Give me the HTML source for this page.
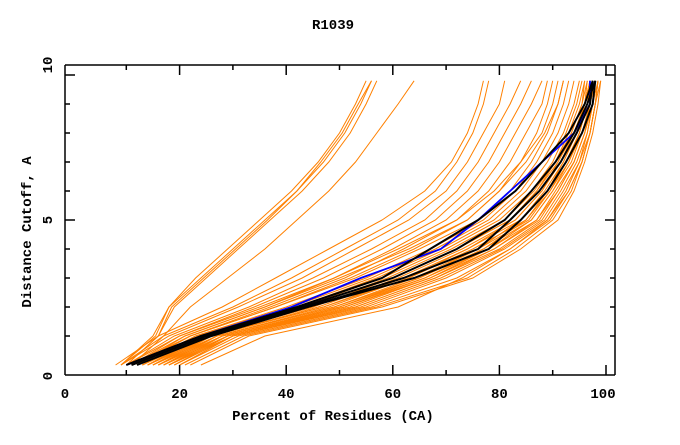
<!DOCTYPE html>
<html><head><meta charset="utf-8"><style>
body{margin:0;background:#fff}
svg text{font-family:"Liberation Mono",monospace;font-weight:bold;font-size:14px;fill:#000}
</style></head><body>
<svg id="chart" width="680" height="440">
<text x="333" y="29" text-anchor="middle">R1039</text>
<text x="333" y="420" text-anchor="middle">Percent of Residues (CA)</text>
<text transform="translate(31,232) rotate(-90)" text-anchor="middle">Distance Cutoff, A</text>
<g id="lines"></g>
<g id="axes"></g>
</svg>
<script>
const levels=[0,1,2,3,4,5,6,7,8,9,9.8];
const xTicks=[0,20,40,60,80,100];
const yTicks=[0,5,10];
const orange=[
[9,15.5,18,24,30,36,42,47,51,54,56],
[10,16,19,25,31,37,43,48,52,55,57],
[9,15,18,23,29,35,41,46,50,53,55],
[10,16,18.5,24.5,30.5,36.5,42,46.5,50.5,53.5,56],
[11,17,22,29,36,42,48,53,57,61,64],
[8,16,28,38,48,58,66,71,74,76,77],
[9,17,30,41,51,61,68,72,75,77,78],
[9,18,31,43,53,63,70,74,77,80,81],
[10,19,33,45,56,66,72,76,79,82,84],
[10,20,34,47,58,68,74,78,81,84,86],
[11,21,36,49,60,70,76,80,83,86,88],
[11,22,37,51,62,72,78,82,85,88,89],
[12,22,38,52,64,74,80,84,87,89,90],
[12,22,38,53,65,76,82,86,89,91,92],
[12,23,40,55,67,77,83,87,90,92,93],
[13,23,41,56,68,78,84,88,91,93,94],
[13,24,42,57,69,79,85,89,92,94,95],
[14,24,43,58,70,80,86,90,92.5,94.5,95.5],
[14,25,44,59,71,81,86.5,90.5,93,95,96],
[15,25,45,60,72,82,87,91,93.5,95.5,96],
[15,26,46,61,73,83,88,91.5,94,96,96.5],
[16,26,47,62,74,84,88.5,92,94.5,96,97],
[16,27,48,63,75,85,89,92.5,95,96.5,97],
[17,27,49,64,76,85.5,89.5,93,95,96.5,97.5],
[17,28,50,65,77,86,90,93.5,95.5,97,97.5],
[18,28,51,66,78,87,90.5,94,96,97,98],
[18,29,52,67,79,87.5,91,94,96,97.5,98],
[19,29,53,68,80,88,91.5,94.5,96.5,97.5,98],
[19,30,54,69,80.5,88.5,92,95,96.5,97.5,98.5],
[20,30,55,70,81,89,92.5,95,97,98,98.5],
[20,31,56,72,82,89.5,93,95.5,97,98,98.5],
[21,32,57,74,83,90,93.5,95.5,97,98,99],
[22,33,58,75,84,91,94,96,97.5,98.5,99],
[14,26,47,63,74,83,88,91,94,96,97],
[15,27,49,65,76,84,89,92,94.5,96,97],
[16,28,50,66,77,85,89.5,92.5,95,96.5,97.5],
[17,29,51,67,78,86,90,93,95.5,97,98],
[13,25,45,60,72,82,87,90.5,93.5,95.5,96.5],
[18,30,53,68,79,87,91,94,96,97.5,98],
[24,36,61,73,82,89,93,95.5,97,98,98.5],
[12,21,36,50,63,74,80,85,88.5,91,92],
[11,20,35,49,61,72,79,84,88,90,91]
];
const black=[
[10,24,42,58,67,76,83,88,93,96,97.5],
[11,25,43,60,72,81,86,90.5,94,96.5,98],
[11,25,44,62,76,82,87.5,91.5,94.5,97,97.5],
[12,26,44,64,78,84,89,92.5,95.5,97.5,98]
];
const blue=[10,24,41,54,69,76,82,88,94,97,97];
const NS="http://www.w3.org/2000/svg";
const X=v=>73+5.33*v, Y=v=>365-29*v;
const G=document.getElementById('lines'), A=document.getElementById('axes');
function line(vals,color,w,name){
  const p=document.createElementNS(NS,'polyline');
  p.setAttribute('points',vals.map((v,i)=>X(v).toFixed(1)+','+Y(levels[i]).toFixed(1)).join(' '));
  p.setAttribute('fill','none');p.setAttribute('stroke',color);p.setAttribute('stroke-width',w);
  
  
  G.appendChild(p);
}
orange.forEach((s,i)=>line(s,'#ff8000',1,'model-line-'+i));
line(blue,'#0000ff',1.8,'blue-line');
black.forEach((s,i)=>line(s,'#000',2,'black-line-'+i));
function ln(x1,y1,x2,y2,name){
  const l=document.createElementNS(NS,'line');
  l.setAttribute('x1',x1);l.setAttribute('y1',y1);l.setAttribute('x2',x2);l.setAttribute('y2',y2);
  l.setAttribute('stroke','#000');l.setAttribute('stroke-width',1.5);
  
  
  A.appendChild(l);
}
const L=65,R=615,T=65,B=375;
ln(L,T,R,T,'plot-border-top');ln(L,B,R,B,'plot-border-bottom');
ln(L,T,L,B,'plot-border-left');ln(R,T,R,B,'plot-border-right');
for(let v=10;v<=100;v+=10){const big=v%20===0,len=big?10:5;
  ln(X(v),B,X(v),B-len,'x-tick');ln(X(v),T,X(v),T+len,'x-tick-top');}
for(let v=1;v<=10;v++){const big=v%5===0,len=big?10:5;
  ln(L,Y(v),L+len,Y(v),'y-tick');ln(R,Y(v),R-len,Y(v),'y-tick-right');}
xTicks.forEach((v,i)=>{const t=document.createElementNS(NS,'text');
  t.setAttribute('x',i===0?65:(i===5?603:X(v)));t.setAttribute('y',398);t.setAttribute('text-anchor','middle');
  t.textContent=v;
  
  
  A.appendChild(t);});
yTicks.forEach((v,i)=>{const t=document.createElementNS(NS,'text');
  const yy=i===0?376:(i===2?65:Y(v));
  t.setAttribute('transform','translate(52,'+yy+') rotate(-90)');t.setAttribute('text-anchor','middle');
  t.textContent=v;
  
  
  A.appendChild(t);});
</script>
</body></html>
